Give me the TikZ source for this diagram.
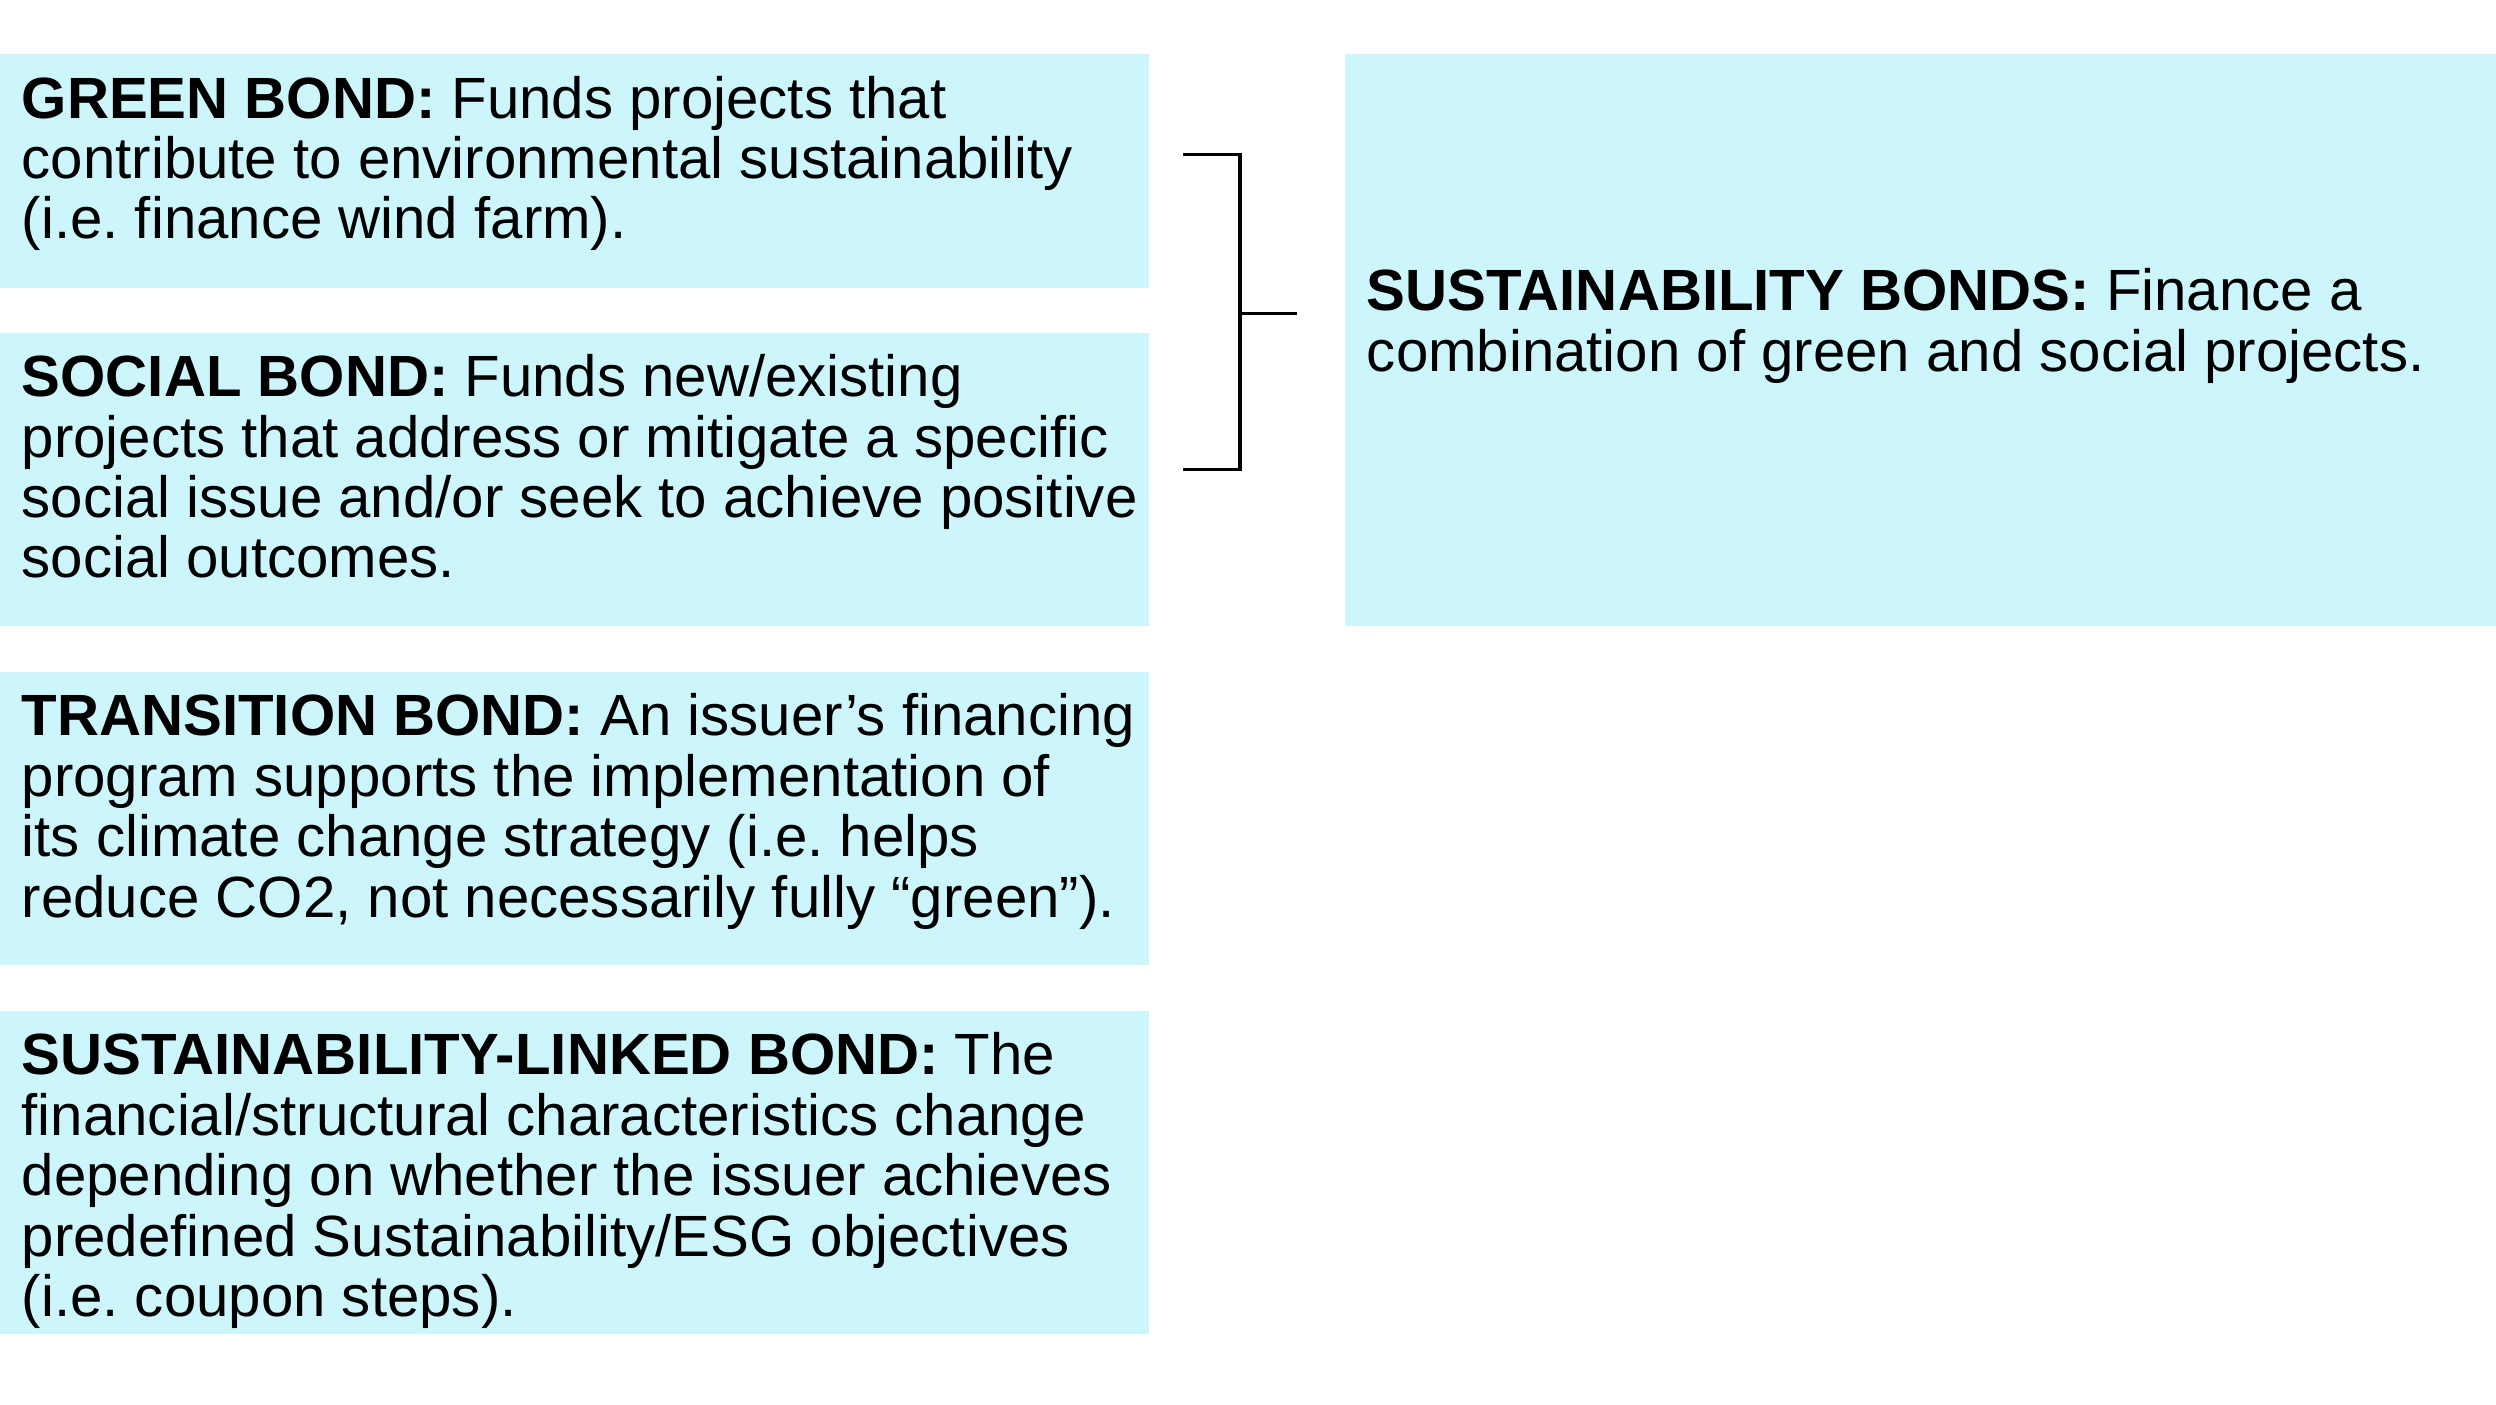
\documentclass[tikz,border=0pt]{standalone}
\usepackage{fontspec}
\setmainfont{Liberation Sans}
\frenchspacing
\definecolor{bondcyan}{HTML}{CCF6FC}
\tikzset{
  bondbox/.style={fill=bondcyan, draw=none},
  bondtext/.style={anchor=north west, align=left, inner sep=0pt, font=\fontsize{10.4}{10.8}\selectfont},
  brace/.style={line width=0.6pt}
}
\begin{document}
\begin{tikzpicture}[x=1cm,y=-1cm]
    \useasboundingbox (0,0) rectangle (15.68,8.82);
    % Boxes
    \fill[bondbox] (0,0.34) rectangle (7.22,1.81);
    \fill[bondbox] (0,2.09) rectangle (7.22,3.93);
    \fill[bondbox] (0,4.22) rectangle (7.22,6.06);
    \fill[bondbox] (0,6.35) rectangle (7.22,8.38);
    \fill[bondbox] (8.45,0.34) rectangle (15.68,3.93);

    % Texts
    \node[bondtext] (green) at (0.13,0.47) {\textbf{GREEN BOND:} Funds projects that\\contribute to environmental sustainability\\(i.e. finance wind farm).};
    \node[bondtext] (social) at (0.13,2.22) {\textbf{SOCIAL BOND:} Funds new/existing\\projects that address or mitigate a specific\\social issue and/or seek to achieve positive\\social outcomes.};
    \node[bondtext] (transition) at (0.13,4.35) {\textbf{TRANSITION BOND:} An issuer’s financing\\program supports the implementation of\\its climate change strategy (i.e. helps\\reduce CO2, not necessarily fully “green”).};
    \node[bondtext] (linked) at (0.13,6.48) {\textbf{SUSTAINABILITY-LINKED BOND:} The\\financial/structural characteristics change\\depending on whether the issuer achieves\\predefined Sustainability/ESG objectives\\(i.e. coupon steps).};
    \node[bondtext] (sustain) at (8.58,1.68) {\textbf{SUSTAINABILITY BONDS:} Finance a\\combination of green and social projects.};

    % Bracket
    \coordinate (gtop) at (7.43,0.97);
    \coordinate (gbot) at (7.43,2.95);
    \coordinate (mid) at (7.79,1.97);
    \coordinate (tip) at (8.15,1.97);
    \draw[brace] (gtop) -| (mid) |- (gbot);
    \draw[brace] (mid) -- (tip);
\end{tikzpicture}
\end{document}
